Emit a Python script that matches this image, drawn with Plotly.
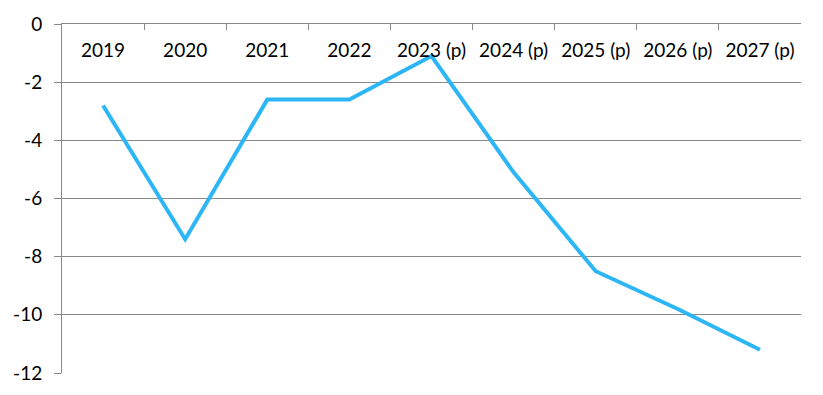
import plotly.graph_objects as go

categories = ["2019", "2020", "2021", "2022", "2023 (p)", "2024 (p)", "2025 (p)", "2026 (p)", "2027 (p)"]
values = [-2.8, -7.4, -2.6, -2.6, -1.1, -5.1, -8.5, -9.8, -11.2]
y_tickvals = [0, -2, -4, -6, -8, -10, -12]
y_ticktext = ["0", "-2", "-4", "-6", "-8", "-10", "-12"]

fig = go.Figure()
# invisible copy on the main x axis (drives the top axis line and boundary ticks)
fig.add_trace(go.Scatter(
    x=categories, y=values, mode="lines", xaxis="x", yaxis="y",
    line=dict(color="rgba(0,0,0,0)", width=0), hoverinfo="skip",
))
# visible line on the label axis
fig.add_trace(go.Scatter(
    x=categories, y=values, mode="lines", xaxis="x2", yaxis="y",
    line=dict(color="#2DB6F6", width=4),
    hoverinfo="x+y",
))

fig.update_layout(
    width=823, height=395,
    margin=dict(l=54, r=30, t=16, b=30),
    paper_bgcolor="white", plot_bgcolor="white",
    showlegend=False,
    font=dict(family="Lato, Liberation Sans, Arial, sans-serif", size=19, color="#000000"),
    xaxis=dict(
        type="category",
        range=[-0.5, len(categories) - 0.5],
        side="top",
        automargin=False,
        showline=True, linecolor="#888888", linewidth=1,
        showgrid=False, zeroline=False,
        ticks="inside", tickson="boundaries", ticklen=6, tickcolor="#888888",
        showticklabels=False,
    ),
    xaxis2=dict(
        type="category",
        overlaying="x",
        anchor="free", position=0.962, side="bottom",
        range=[-0.5, len(categories) - 0.5],
        automargin=False,
        showline=False, showgrid=False, zeroline=False,
        ticks="",
        tickfont=dict(size=19, color="#000000"),
    ),
    yaxis=dict(
        range=[-12, 0],
        automargin=False,
        tickvals=y_tickvals, ticktext=y_ticktext,
        showline=True, linecolor="#888888", linewidth=1,
        showgrid=True, gridcolor="#888888", gridwidth=1,
        zeroline=False,
        ticks="outside", ticklen=7, tickcolor="#888888",
        ticklabelstandoff=8,
        tickfont=dict(size=19, color="#000000"),
    ),
)

fig.write_html("out.html")
